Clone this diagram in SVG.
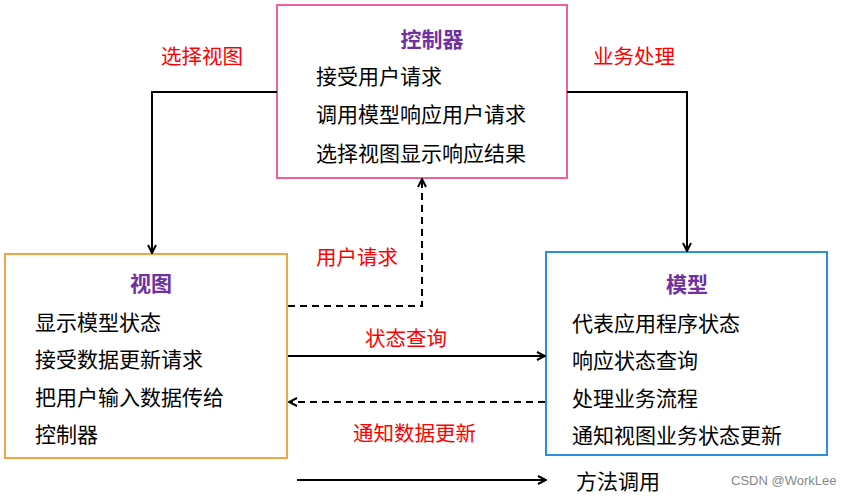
<svg xmlns="http://www.w3.org/2000/svg" width="843" height="496" viewBox="0 0 843 496">
<style>
.box{fill:#fff;stroke-width:2}
.t{font-family:"Noto Sans CJK SC","Liberation Sans",sans-serif;font-size:21px;fill:#000}
.h{font-family:"Noto Sans CJK SC","Liberation Sans",sans-serif;font-size:21px;font-weight:bold;fill:#7030a0;text-anchor:middle}
.lbl{font-family:"Noto Sans CJK SC","Liberation Sans",sans-serif;font-size:20.5px;fill:#ff0000}
.c{fill:none;stroke:#000;stroke-width:2}
.d{stroke-dasharray:7,5}
.wm{font-family:"Liberation Sans",sans-serif;font-size:13px;fill:#888}
</style>
<defs>
<marker id="a" viewBox="0 0 10 10" refX="9" refY="5" markerWidth="10" markerHeight="10" markerUnits="userSpaceOnUse" orient="auto">
<path d="M1,1 L9,5 L1,9" fill="none" stroke="#000" stroke-width="2"/>
</marker>
</defs>
<rect width="843" height="496" fill="#fff"/>
<g id="controller">
<rect class="box" x="277" y="5" width="290" height="173" stroke="#f0609e"/>
<text class="h" x="432" y="47">控制器</text>
<text class="t" x="316" y="84">接受用户请求</text>
<text class="t" x="316" y="122">调用模型响应用户请求</text>
<text class="t" x="316" y="161">选择视图显示响应结果</text>
</g>
<g id="view">
<rect class="box" x="5" y="254" width="282" height="204" stroke="#f5a444"/>
<text class="h" x="151" y="291">视图</text>
<text class="t" x="35" y="330">显示模型状态</text>
<text class="t" x="35" y="367">接受数据更新请求</text>
<text class="t" x="35" y="405">把用户输入数据传给</text>
<text class="t" x="35" y="442">控制器</text>
</g>
<g id="model">
<rect class="box" x="546" y="252" width="281" height="203" stroke="#2b8fe0"/>
<text class="h" x="687" y="292">模型</text>
<text class="t" x="572" y="331">代表应用程序状态</text>
<text class="t" x="572" y="368">响应状态查询</text>
<text class="t" x="572" y="406">处理业务流程</text>
<text class="t" x="572" y="443">通知视图业务状态更新</text>
</g>
<g id="connectors">
<polyline class="c" points="277,92 152,92 152,253" marker-end="url(#a)"/>
<polyline class="c" points="567,92 687,92 687,251" marker-end="url(#a)"/>
<polyline class="c d" points="288,306 422,306 422,179" marker-end="url(#a)"/>
<line class="c" x1="288" y1="356" x2="545" y2="356" marker-end="url(#a)"/>
<line class="c d" x1="545" y1="402" x2="289" y2="402" marker-end="url(#a)"/>
<line class="c" x1="297" y1="480" x2="546" y2="480" marker-end="url(#a)"/>
<text class="lbl" x="161" y="64">选择视图</text>
<text class="lbl" x="593" y="64">业务处理</text>
<text class="lbl" x="316" y="265">用户请求</text>
<text class="lbl" x="365" y="346">状态查询</text>
<text class="lbl" x="353" y="441">通知数据更新</text>
</g>
<g id="legend">
<text class="t" x="576" y="489">方法调用</text>
<text class="wm" x="731" y="485">CSDN @WorkLee</text>
</g>
</svg>
